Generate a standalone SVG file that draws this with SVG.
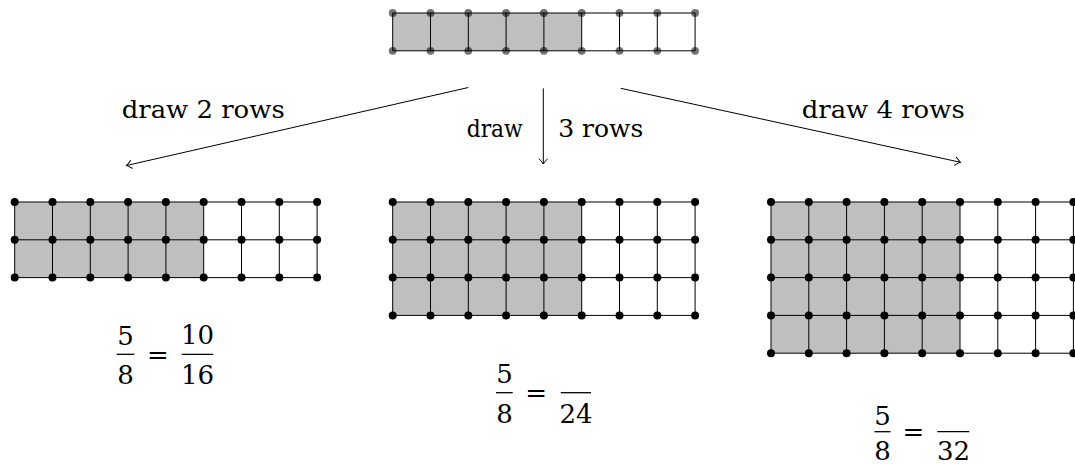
<svg xmlns="http://www.w3.org/2000/svg" width="1075" height="465" viewBox="0 0 1075 465">
<style>
.bg{fill:#fff}
.sh{fill:#bfbfbf;stroke:none}
.gl{fill:none;stroke:#000;stroke-width:1}
.row{fill:none;stroke:#000;stroke-width:1;marker-start:url(#dot);marker-mid:url(#dot);marker-end:url(#dot)}
.rowg{fill:none;stroke:#000;stroke-width:1;marker-start:url(#dotg);marker-mid:url(#dotg);marker-end:url(#dotg)}
.lbl{font-size:24px;fill:#000}
.num{font-size:26px;text-anchor:middle;fill:#000}
.bar{stroke:#000;stroke-width:1.3}
.arr{fill:none;stroke:#000;stroke-width:1;marker-end:url(#to)}
</style>
<defs>
<marker id="dot" markerUnits="userSpaceOnUse" markerWidth="10" markerHeight="10" refX="5" refY="5" overflow="visible">
<circle cx="5" cy="5" r="4" fill="#000"/>
</marker>
<marker id="dotg" markerUnits="userSpaceOnUse" markerWidth="10" markerHeight="10" refX="5" refY="5" overflow="visible">
<circle cx="5" cy="5" r="3.9" fill="#000" fill-opacity="0.55"/>
</marker>
<marker id="to" markerUnits="userSpaceOnUse" markerWidth="12" markerHeight="12" refX="10" refY="6" orient="auto" overflow="visible">
<path d="M5,2 Q8.5,5.3 10,6 Q8.5,6.7 5,10" fill="none" stroke="#000" stroke-width="1" stroke-linecap="round"/>
</marker>
</defs>
<rect class="bg" x="0" y="0" width="1075" height="465"/>

<g id="top-grid" transform="translate(392.7,13)">
<rect class="sh" x="0" y="0" width="189" height="37.8"/>
<path class="gl" d="M0,0V37.8M37.8,0V37.8M75.6,0V37.8M113.4,0V37.8M151.2,0V37.8M189,0V37.8M226.8,0V37.8M264.6,0V37.8M302.4,0V37.8"/>
<polyline class="rowg" points="0,0 37.8,0 75.6,0 113.4,0 151.2,0 189,0 226.8,0 264.6,0 302.4,0"/>
<polyline class="rowg" points="0,37.8 37.8,37.8 75.6,37.8 113.4,37.8 151.2,37.8 189,37.8 226.8,37.8 264.6,37.8 302.4,37.8"/>
</g>

<g id="grid-2rows" transform="translate(14.7,202)">
<rect class="sh" x="0" y="0" width="189" height="75.6"/>
<path class="gl" d="M0,0V75.6M37.8,0V75.6M75.6,0V75.6M113.4,0V75.6M151.2,0V75.6M189,0V75.6M226.8,0V75.6M264.6,0V75.6M302.4,0V75.6"/>
<polyline class="row" points="0,0 37.8,0 75.6,0 113.4,0 151.2,0 189,0 226.8,0 264.6,0 302.4,0"/>
<polyline class="row" points="0,37.8 37.8,37.8 75.6,37.8 113.4,37.8 151.2,37.8 189,37.8 226.8,37.8 264.6,37.8 302.4,37.8"/>
<polyline class="row" points="0,75.6 37.8,75.6 75.6,75.6 113.4,75.6 151.2,75.6 189,75.6 226.8,75.6 264.6,75.6 302.4,75.6"/>
</g>

<g id="grid-3rows" transform="translate(392.7,202)">
<rect class="sh" x="0" y="0" width="189" height="113.4"/>
<path class="gl" d="M0,0V113.4M37.8,0V113.4M75.6,0V113.4M113.4,0V113.4M151.2,0V113.4M189,0V113.4M226.8,0V113.4M264.6,0V113.4M302.4,0V113.4"/>
<polyline class="row" points="0,0 37.8,0 75.6,0 113.4,0 151.2,0 189,0 226.8,0 264.6,0 302.4,0"/>
<polyline class="row" points="0,37.8 37.8,37.8 75.6,37.8 113.4,37.8 151.2,37.8 189,37.8 226.8,37.8 264.6,37.8 302.4,37.8"/>
<polyline class="row" points="0,75.6 37.8,75.6 75.6,75.6 113.4,75.6 151.2,75.6 189,75.6 226.8,75.6 264.6,75.6 302.4,75.6"/>
<polyline class="row" points="0,113.4 37.8,113.4 75.6,113.4 113.4,113.4 151.2,113.4 189,113.4 226.8,113.4 264.6,113.4 302.4,113.4"/>
</g>

<g id="grid-4rows" transform="translate(771,202)">
<rect class="sh" x="0" y="0" width="189" height="151.2"/>
<path class="gl" d="M0,0V151.2M37.8,0V151.2M75.6,0V151.2M113.4,0V151.2M151.2,0V151.2M189,0V151.2M226.8,0V151.2M264.6,0V151.2M302.4,0V151.2"/>
<polyline class="row" points="0,0 37.8,0 75.6,0 113.4,0 151.2,0 189,0 226.8,0 264.6,0 302.4,0"/>
<polyline class="row" points="0,37.8 37.8,37.8 75.6,37.8 113.4,37.8 151.2,37.8 189,37.8 226.8,37.8 264.6,37.8 302.4,37.8"/>
<polyline class="row" points="0,75.6 37.8,75.6 75.6,75.6 113.4,75.6 151.2,75.6 189,75.6 226.8,75.6 264.6,75.6 302.4,75.6"/>
<polyline class="row" points="0,113.4 37.8,113.4 75.6,113.4 113.4,113.4 151.2,113.4 189,113.4 226.8,113.4 264.6,113.4 302.4,113.4"/>
<polyline class="row" points="0,151.2 37.8,151.2 75.6,151.2 113.4,151.2 151.2,151.2 189,151.2 226.8,151.2 264.6,151.2 302.4,151.2"/>
</g>

<g id="connectors" font-family="DejaVu Serif, serif">
<line class="arr" x1="468.3" y1="87.5" x2="126.5" y2="165.5"/>
<line class="arr" x1="543.3" y1="88.3" x2="543.3" y2="164"/>
<line class="arr" x1="620.7" y1="88.3" x2="960.5" y2="162.3"/>
<text class="lbl" x="121.7" y="117.5" textLength="163" lengthAdjust="spacingAndGlyphs">draw 2 rows</text>
<text class="lbl" x="466.7" y="137" textLength="56" lengthAdjust="spacingAndGlyphs">draw</text>
<text class="lbl" x="558.3" y="137" textLength="85" lengthAdjust="spacingAndGlyphs">3 rows</text>
<text class="lbl" x="801.7" y="117.5" textLength="163" lengthAdjust="spacingAndGlyphs">draw 4 rows</text>
</g>

<g id="frac-2rows" font-family="DejaVu Serif, serif">
<text class="num" x="125.5" y="345">5</text>
<line class="bar" x1="116.7" y1="354.3" x2="134.3" y2="354.3"/>
<text class="num" x="125.5" y="383.5">8</text>
<text class="num" x="158" y="364">=</text>
<text class="num" x="197.5" y="343.5">10</text>
<line class="bar" x1="181.7" y1="354.3" x2="213.3" y2="354.3"/>
<text class="num" x="197.5" y="383.5">16</text>
</g>

<g id="frac-3rows" font-family="DejaVu Serif, serif">
<text class="num" x="504.5" y="383">5</text>
<line class="bar" x1="496" y1="392.7" x2="512.7" y2="392.7"/>
<text class="num" x="504.5" y="423.3">8</text>
<text class="num" x="536.2" y="402.3">=</text>
<line class="bar" x1="560.7" y1="392.7" x2="591" y2="392.7"/>
<text class="num" x="576" y="423.3">24</text>
</g>

<g id="frac-4rows" font-family="DejaVu Serif, serif">
<text class="num" x="882.5" y="425">5</text>
<line class="bar" x1="874.5" y1="431.7" x2="890.5" y2="431.7"/>
<text class="num" x="882.5" y="460">8</text>
<text class="num" x="913.3" y="441.3">=</text>
<line class="bar" x1="937.3" y1="431.7" x2="969.3" y2="431.7"/>
<text class="num" x="953.5" y="460">32</text>
</g>
</svg>
